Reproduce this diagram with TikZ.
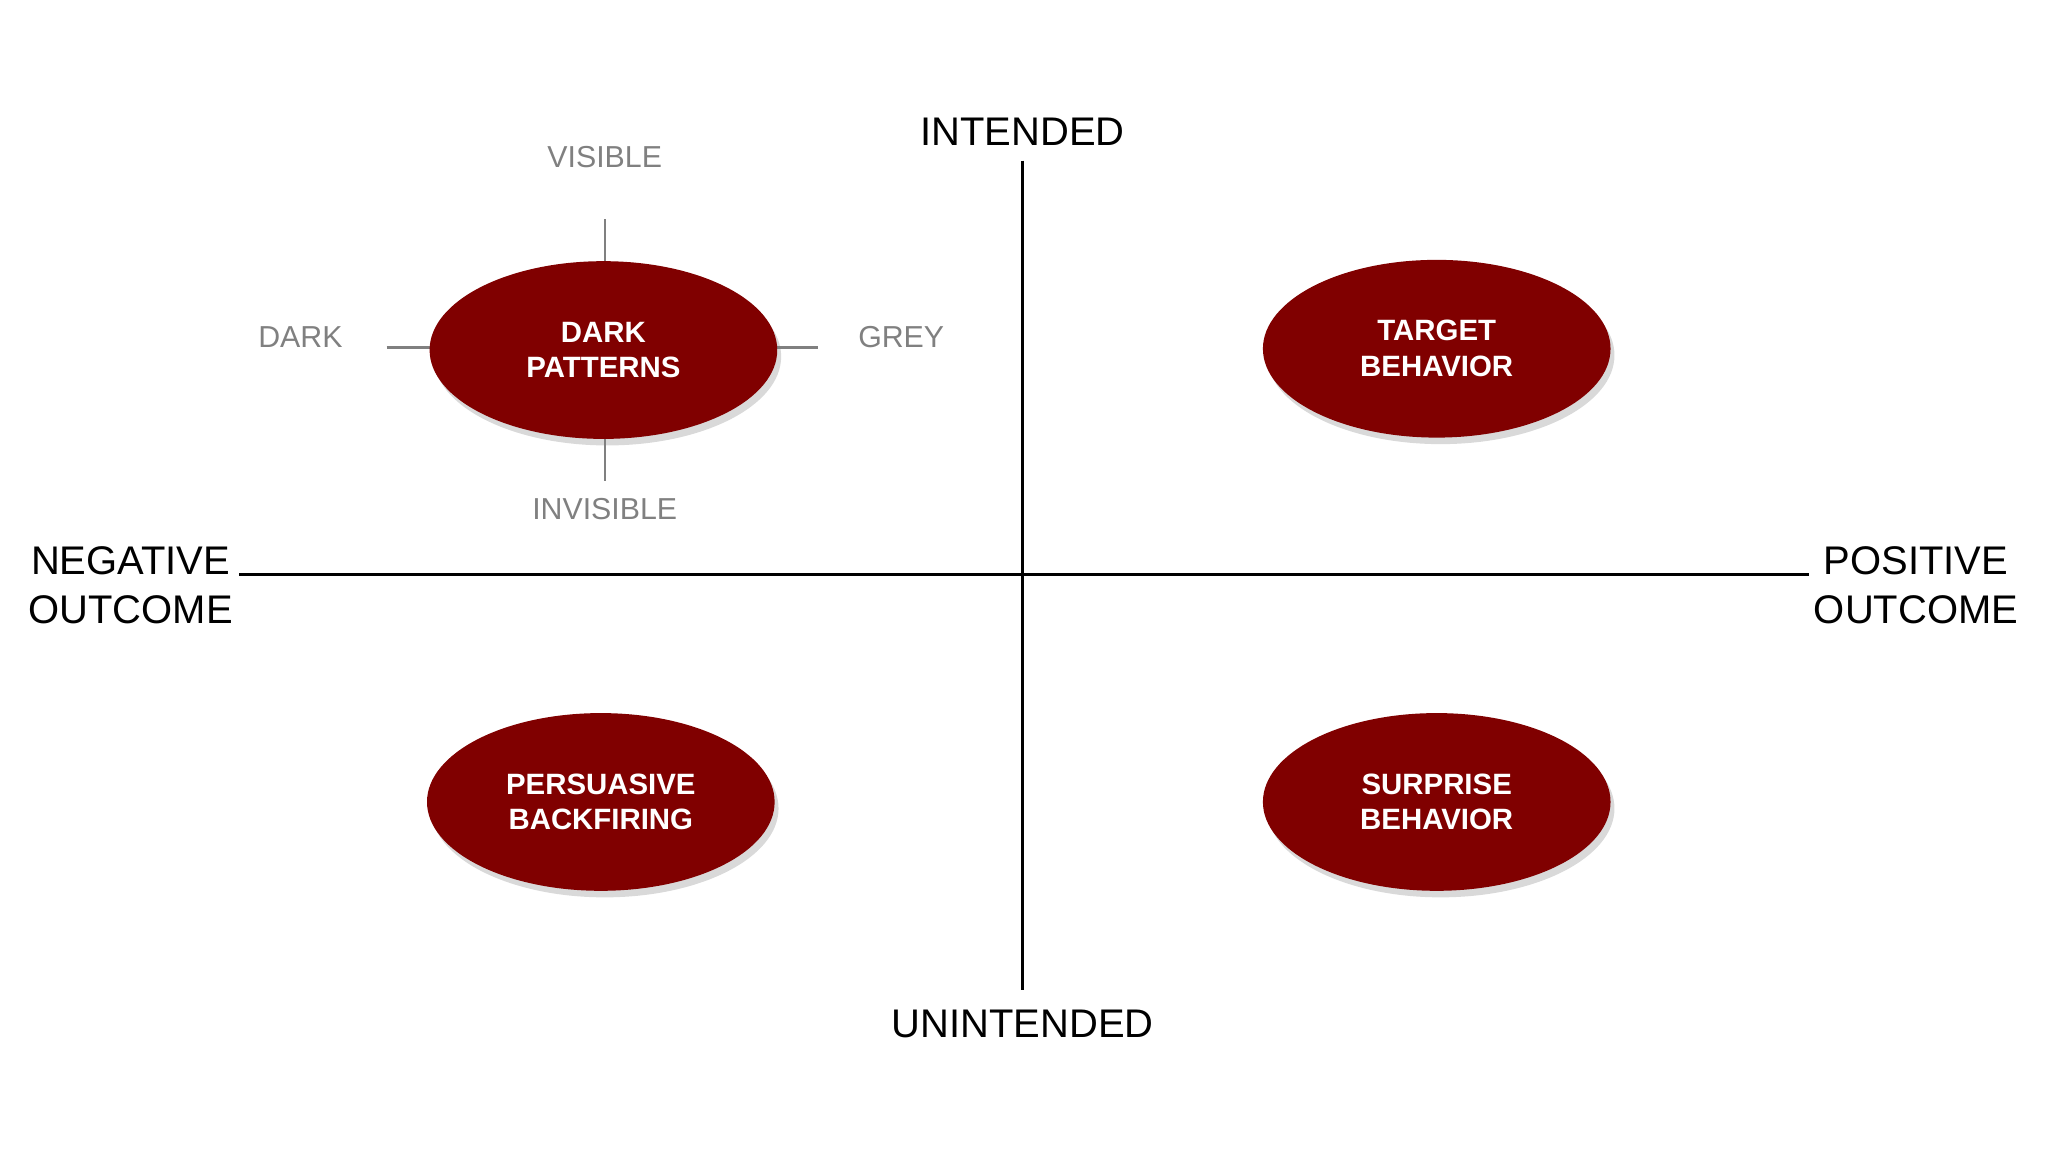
\documentclass[tikz,border=0pt]{standalone}
\usepackage{fontspec}
\setmainfont{Liberation Sans}
\usetikzlibrary{shapes.geometric,shadows}
\definecolor{dred}{HTML}{800000}
\definecolor{lgray}{HTML}{808080}
\begin{document}
\begin{tikzpicture}[x=0.01cm,y=-0.01cm,
  blob/.style={ellipse,fill=dred,minimum width=2.66cm,minimum height=1.36cm,text=white,font=\fontsize{6.4}{7.8}\selectfont\bfseries,align=center,drop shadow={opacity=0.3,shadow xshift=0.03cm,shadow yshift=-0.05cm}},
  axlab/.style={font=\fontsize{8.7}{10.5}\selectfont,align=center},
  glab/.style={font=\fontsize{6.6}{8}\selectfont,text=lgray},
  tick/.style={draw=lgray,line width=0.5pt},
  axis/.style={draw=black,line width=0.6pt}]
\useasboundingbox (0,0) rectangle (1568,882);
\coordinate (vt) at (783,123); \coordinate (vb) at (783,758);
\coordinate (hl) at (183,440); \coordinate (hr) at (1385,440);
\draw[axis] (vt) -- (vb);
\draw[axis] (hl) -- (hr);
\node[axlab] (int) at (783,101) {INTENDED};
\node[axlab] (unint) at (783,784) {UNINTENDED};
\node[axlab] (neg) at (100,448) {NEGATIVE\\OUTCOME};
\node[axlab] (pos) at (1467,448) {POSITIVE\\OUTCOME};
\coordinate (t1) at (463,168); \coordinate (t2) at (463,201);
\coordinate (t3) at (463,335); \coordinate (t4) at (463,368);
\coordinate (t5) at (296,266); \coordinate (t6) at (330,266);
\coordinate (t7) at (595,266); \coordinate (t8) at (626,266);
\draw[tick] (t1)--(t2); \draw[tick] (t3)--(t4);
\draw[tick] (t5)--(t6); \draw[tick] (t7)--(t8);
\node[blob] (dp) at (462,268) {DARK\\PATTERNS};
\node[blob] (tb) at (1100,267) {TARGET\\BEHAVIOR};
\node[blob] (pb) at (460,614) {PERSUASIVE\\BACKFIRING};
\node[blob] (sb) at (1100,614) {SURPRISE\\BEHAVIOR};
\node[glab] (vis) at (463,120) {VISIBLE};
\node[glab] (invis) at (463,390) {INVISIBLE};
\node[glab] (dark) at (230,258) {DARK};
\node[glab] (grey) at (690,258) {GREY};
\end{tikzpicture}
\end{document}
